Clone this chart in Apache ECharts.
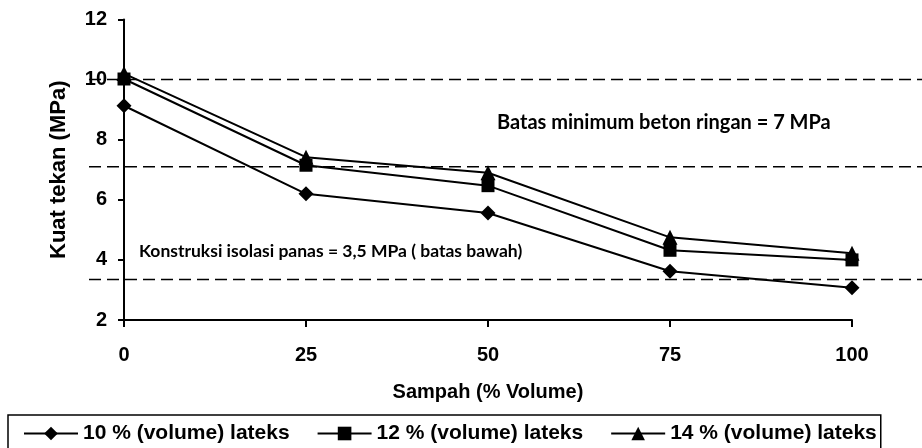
<!DOCTYPE html>
<html>
<head>
<meta charset="utf-8">
<script src="https://cdn.jsdelivr.net/npm/echarts@6/dist/echarts.min.js"></script>
<style>
  html, body { margin: 0; padding: 0; background: #fff; }
  #chart { width: 922px; height: 448px; }
</style>
</head>
<body>
<div id="chart"></div>
<script>
var sampah = [0, 25, 50, 75, 100];
var seriesNames = ['10 % (volume) lateks', '12 % (volume) lateks', '14 % (volume) lateks'];
var lateks10 = [9.13, 6.2, 5.56, 3.62, 3.07];
var lateks12 = [10.02, 7.15, 6.47, 4.32, 4.0];
var lateks14 = [10.2, 7.42, 6.9, 4.75, 4.22];
var batasLines = [10, 7.1, 3.35];
var symbols = ['diamond', 'rect', 'triangle'];
var symbolSizes = [15, 13, 15];

var font = 'Liberation Sans, Arial, sans-serif';
var allValues = [lateks10, lateks12, lateks14];

var serieData = [];
for (var v = 0; v < seriesNames.length; v++) {
    serieData.push({
        name: seriesNames[v],
        type: 'line',
        xAxisIndex: 0, yAxisIndex: 0,
        symbol: symbols[v],
        symbolSize: symbolSizes[v],
        itemStyle: { color: '#000' },
        lineStyle: { color: '#000', width: 2 },
        data: sampah.map(function (x, i) { return [x, allValues[v][i]]; }),
        z: 3
    });
}
// dashed limit lines, drawn in a wider overlay grid sharing the y scale
for (var b = 0; b < batasLines.length; b++) {
    serieData.push({
        type: 'line',
        xAxisIndex: 1, yAxisIndex: 1,
        symbol: 'none',
        silent: true,
        lineStyle: { color: '#000', width: 1.5, type: [12, 6] },
        data: [[0, batasLines[b]], [1, batasLines[b]]],
        z: 2
    });
}

var option = {
    backgroundColor: '#fff',
    animation: false,
    grid: [
        { left: 124, right: 70, top: 19.5, bottom: 128 },
        { left: 89, right: 0, top: 19.5, bottom: 128 }
    ],
    legend: {
        data: seriesNames,
        left: 8, top: 415,
        padding: [8, 4, 20, 15],
        itemWidth: 54, itemHeight: 17, itemGap: 27,
        borderColor: '#000', borderWidth: 1.5,
        lineStyle: { width: 2, color: '#000' },
        textStyle: { color: '#000', fontFamily: font, fontWeight: 'bold', fontSize: 21 }
    },
    xAxis: [
        {
            type: 'value', gridIndex: 0, min: 0, max: 100, interval: 25,
            name: 'Sampah (% Volume)', nameLocation: 'middle', nameGap: 62,
            nameTextStyle: { color: '#000', fontFamily: font, fontWeight: 'bold', fontSize: 20 },
            axisLine: { lineStyle: { color: '#000', width: 2 } },
            axisTick: { length: 7, lineStyle: { color: '#000', width: 2 } },
            axisLabel: { color: '#000', fontFamily: font, fontWeight: 'bold', fontSize: 20, margin: 25 },
            splitLine: { show: false }
        },
        { type: 'value', gridIndex: 1, min: 0, max: 1, show: false }
    ],
    yAxis: [
        {
            type: 'value', gridIndex: 0, min: 2, max: 12, interval: 2,
            name: 'Kuat tekan (MPa)', nameLocation: 'middle', nameGap: 54,
            nameTextStyle: { color: '#000', fontFamily: font, fontWeight: 'bold', fontSize: 22 },
            axisLine: { show: true, lineStyle: { color: '#000', width: 2 } },
            axisTick: { show: true, length: 6, lineStyle: { color: '#000', width: 2 } },
            axisLabel: { color: '#000', fontFamily: font, fontWeight: 'bold', fontSize: 20, margin: 17 },
            splitLine: { show: false }
        },
        { type: 'value', gridIndex: 1, min: 2, max: 12, show: false }
    ],
    graphic: [
        {
            type: 'text', left: 497, top: 113,
            style: { text: 'Batas minimum beton ringan = 7 MPa', fill: '#000',
                     font: 'bold 20px Lato, sans-serif' }
        },
        {
            type: 'text', left: 139, top: 242,
            style: { text: 'Konstruksi isolasi panas = 3,5 MPa ( batas bawah)', fill: '#000',
                     font: 'bold 17.5px Lato, sans-serif' }
        }
    ],
    series: serieData
};

var myChart = echarts.init(document.getElementById('chart'));
myChart.setOption(option);
</script>
</body>
</html>
